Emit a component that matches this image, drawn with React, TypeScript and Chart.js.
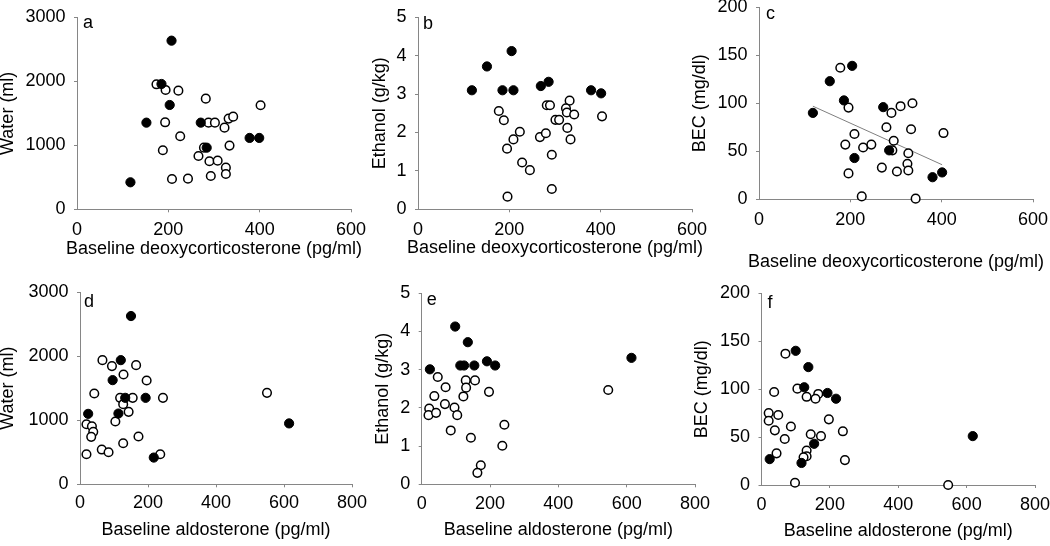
import React, { useEffect, useRef } from "react";
import { Chart, registerables } from "chart.js";

Chart.register(...registerables);

const FONT = "'Liberation Sans', Arial, Helvetica, sans-serif";
const AXIS = "#868686";
const FS = 18;

// ---- Panel a: Baseline deoxycorticosterone vs Water ----
const aFilledX = [207, 185, 203, 152, 271, 284, 378, 399, 117];
const aFilledY = [2635, 1958, 1630, 1354, 1354, 963, 1115, 1115, 422];
const aOpenX = [174, 194, 222, 282, 402, 193, 288, 302, 332, 342, 323, 226, 278, 334, 188, 266, 290, 308, 326, 326, 293, 208, 243];
const aOpenY = [1953, 1865, 1854, 1729, 1625, 1359, 1354, 1354, 1417, 1448, 1276, 1141, 963, 995, 922, 833, 750, 760, 651, 552, 521, 474, 479];

// ---- Panel b: Baseline deoxycorticosterone vs Ethanol ----
const bFilledX = [118, 151, 185, 205, 209, 269, 286, 379, 401];
const bFilledY = [3.1, 3.72, 3.1, 4.12, 3.1, 3.21, 3.32, 3.1, 3.02];
const bOpenX = [177, 188, 223, 209, 195, 228, 245, 196, 267, 280, 282, 289, 301, 309, 293, 293, 332, 324, 326, 327, 342, 334, 403];
const bOpenY = [2.56, 2.32, 2.02, 1.82, 1.58, 1.22, 1.02, 0.33, 1.88, 1.98, 2.71, 2.71, 2.33, 2.33, 1.42, 0.53, 2.83, 2.63, 2.52, 2.12, 2.47, 1.82, 2.42];

// ---- Panel c: Baseline deoxycorticosterone vs BEC ----
const cFilledX = [118, 155, 186, 204, 209, 272, 285, 380, 401];
const cFilledY = [90, 123, 103, 139, 43, 96, 51, 23, 28];
const cOpenX = [178, 196, 189, 196, 209, 228, 246, 225, 269, 279, 290, 310, 295, 292, 302, 336, 333, 327, 325, 327, 343, 404];
const cOpenY = [137, 95.5, 57, 27, 68, 54, 57, 3, 33, 75, 90, 97, 61, 51, 29, 100, 73, 48, 37, 30, 0.7, 69];
const cTrendX = [118, 401];
const cTrendY = [97, 36];

// ---- Panel d: Baseline aldosterone vs Water ----
const dFilledX = [150, 120, 96, 133, 193, 24, 113, 217, 615];
const dFilledY = [2625, 1937, 1625, 1349, 1349, 1099, 1104, 417, 950];
const dOpenX = [66, 94, 165, 128, 196, 42, 118, 155, 244, 127, 143, 104, 19, 35, 39, 33, 127, 172, 64, 84, 19, 236, 550];
const dOpenY = [1937, 1844, 1859, 1713, 1620, 1417, 1349, 1349, 1349, 1250, 1130, 979, 937, 906, 818, 740, 641, 745, 542, 500, 469, 469, 1427];

// ---- Panel e: Baseline aldosterone vs Ethanol ----
const eFilledX = [24, 98, 135, 113, 124, 154, 191, 215, 614];
const eFilledY = [3.01, 4.13, 3.72, 3.11, 3.11, 3.11, 3.22, 3.11, 3.31];
const eOpenX = [47, 70, 129, 156, 130, 197, 37, 122, 68, 22, 96, 20, 42, 104, 85, 144, 242, 236, 173, 163, 546];
const eOpenY = [2.81, 2.54, 2.72, 2.72, 2.53, 2.42, 2.31, 2.3, 2.1, 1.98, 2.01, 1.81, 1.87, 1.81, 1.41, 1.22, 1.56, 1.01, 0.5, 0.3, 2.47];

// ---- Panel f: Baseline aldosterone vs BEC ----
const fFilledX = [100, 137, 125, 193, 218, 154, 24, 117, 618];
const fFilledY = [140, 123, 102, 96, 90, 43, 27, 23, 51];
const fOpenX = [70, 37, 105, 132, 166, 158, 21, 49, 21, 39, 86, 197, 68, 144, 174, 238, 44, 132, 132, 123, 244, 98, 546];
const fOpenY = [137, 97, 100.5, 92, 95, 90, 75, 73, 67, 57, 61, 68.5, 48, 53, 51, 56, 33, 36, 30, 29, 26, 2.4, 0];

// ---- Axis labels ----
const DOC_TITLE = "Baseline deoxycorticosterone (pg/ml)";
const ALDO_TITLE = "Baseline aldosterone (pg/ml)";
const WATER_TITLE = "Water (ml)";
const ETOH_TITLE = "Ethanol (g/kg)";
const BEC_TITLE = "BEC (mg/dl)";

type Pt = { x: number; y: number };
const zip = (xs: number[], ys: number[]): Pt[] => xs.map((x, i) => ({ x, y: ys[i] }));

interface Panel {
  letter: string;
  xTitle: string;
  yTitle: string;
  xMax: number;
  xStep: number;
  yMax: number;
  yStep: number;
  filled: Pt[];
  open: Pt[];
  trend?: Pt[];
  area: { l: number; r: number; t: number; b: number };
  yTitleX: number;
  xTickY: number;
  xTitleY: number;
  letterDx: number;
  letterDy: number;
}

const PANELS: Panel[] = [
  {
    letter: "a", xTitle: DOC_TITLE, yTitle: WATER_TITLE, xMax: 600, xStep: 200, yMax: 3000, yStep: 1000,
    filled: zip(aFilledX, aFilledY), open: zip(aOpenX, aOpenY),
    area: { l: 77, r: 351, t: 17.3, b: 209.3 }, yTitleX: 8, xTickY: 230, xTitleY: 248.7, letterDx: 6, letterDy: 11,
  },
  {
    letter: "b", xTitle: DOC_TITLE, yTitle: ETOH_TITLE, xMax: 600, xStep: 200, yMax: 5, yStep: 1,
    filled: zip(bFilledX, bFilledY), open: zip(bOpenX, bOpenY),
    area: { l: 418, r: 692, t: 17.3, b: 209.3 }, yTitleX: 380.5, xTickY: 230, xTitleY: 248.3, letterDx: 5, letterDy: 12,
  },
  {
    letter: "c", xTitle: DOC_TITLE, yTitle: BEC_TITLE, xMax: 600, xStep: 200, yMax: 200, yStep: 50,
    filled: zip(cFilledX, cFilledY), open: zip(cOpenX, cOpenY), trend: zip(cTrendX, cTrendY),
    area: { l: 759, r: 1033, t: 7.3, b: 199.3 }, yTitleX: 700, xTickY: 220, xTitleY: 261.7, letterDx: 7, letterDy: 12,
  },
  {
    letter: "d", xTitle: ALDO_TITLE, yTitle: WATER_TITLE, xMax: 800, xStep: 200, yMax: 3000, yStep: 1000,
    filled: zip(dFilledX, dFilledY), open: zip(dOpenX, dOpenY),
    area: { l: 80, r: 352, t: 292, b: 484.3 }, yTitleX: 8.4, xTickY: 503.5, xTitleY: 530, letterDx: 4, letterDy: 14.5,
  },
  {
    letter: "e", xTitle: ALDO_TITLE, yTitle: ETOH_TITLE, xMax: 800, xStep: 200, yMax: 5, yStep: 1,
    filled: zip(eFilledX, eFilledY), open: zip(eOpenX, eOpenY),
    area: { l: 421.7, r: 695, t: 293.3, b: 484.3 }, yTitleX: 382.7, xTickY: 504.5, xTitleY: 530, letterDx: 5, letterDy: 12,
  },
  {
    letter: "f", xTitle: ALDO_TITLE, yTitle: BEC_TITLE, xMax: 800, xStep: 200, yMax: 200, yStep: 50,
    filled: zip(fFilledX, fFilledY), open: zip(fOpenX, fOpenY),
    area: { l: 761.5, r: 1035, t: 293.3, b: 485 }, yTitleX: 701.8, xTickY: 505.5, xTitleY: 531, letterDx: 6, letterDy: 15,
  },
];

const W = 1050;
const H = 546;
const TICK_LEN = 3;

function makeConfig(p: Panel): any {
  const yPadLeft = Math.max(0, p.yTitleX - FS / 2);
  const yWidth = p.area.l - yPadLeft;
  const yTitlePad = p.yTitleX - FS / 2 - yPadLeft;
  const xHeight = p.xTitleY + FS / 2 - p.area.b;
  const xTickPad = p.xTickY - p.area.b - TICK_LEN - (FS * 1.2) / 2;

  // Panel letter and x-axis title (drawn without width compression)
  const textPlugin = {
    id: "panelText" + p.letter,
    afterDraw(chart: any) {
      const { ctx, chartArea } = chart;
      ctx.save();
      ctx.font = `${FS}px ${FONT}`;
      ctx.fillStyle = "#000";
      ctx.textBaseline = "alphabetic";
      ctx.textAlign = "left";
      ctx.fillText(p.letter, chartArea.left + p.letterDx, chartArea.top + p.letterDy);
      ctx.textBaseline = "middle";
      ctx.textAlign = "center";
      ctx.fillText(p.xTitle, (chartArea.left + chartArea.right) / 2, p.xTitleY);
      ctx.restore();
    },
  };

  const datasets: any[] = [
    {
      label: "filled",
      data: p.filled,
      pointRadius: 4.6,
      pointBackgroundColor: "#000",
      pointBorderColor: "#000",
      pointBorderWidth: 1,
      showLine: false,
      clip: false,
    },
    {
      label: "open",
      data: p.open,
      pointRadius: 4.3,
      pointBackgroundColor: "#fff",
      pointBorderColor: "#000",
      pointBorderWidth: 1.5,
      showLine: false,
      clip: false,
    },
  ];
  if (p.trend) {
    datasets.push({
      label: "trend",
      data: p.trend,
      showLine: true,
      borderColor: "#7f7f7f",
      borderWidth: 1,
      pointRadius: 0,
      clip: false,
    });
  }

  return {
    type: "scatter",
    data: { datasets },
    options: {
      animation: false,
      responsive: false,
      devicePixelRatio: 1,
      events: [],
      layout: {
        padding: {
          left: yPadLeft,
          top: p.area.t,
          right: W - p.area.r,
          bottom: H - p.area.b - xHeight,
        },
      },
      plugins: {
        legend: { display: false },
        tooltip: { enabled: false },
        title: { display: false },
      },
      scales: {
        x: {
          type: "linear",
          position: "bottom",
          min: 0,
          max: p.xMax,
          ticks: {
            stepSize: p.xStep,
            font: { family: FONT, size: FS, lineHeight: 1.2 },
            color: "#000",
            padding: xTickPad,
            maxRotation: 0,
            autoSkip: false,
            callback: (v: any) => String(v),
          },
          grid: {
            drawOnChartArea: false,
            drawTicks: true,
            tickLength: TICK_LEN,
            color: AXIS,
            tickColor: (c: any) => (c.index === 0 ? "rgba(0,0,0,0)" : AXIS),
          },
          border: { display: true, color: AXIS, width: 1 },
          title: { display: false, text: p.xTitle },
          afterFit: (s: any) => {
            s.height = xHeight;
            s.paddingLeft = 0;
            s.paddingRight = 0;
          },
        },
        y: {
          type: "linear",
          position: "left",
          min: 0,
          max: p.yMax,
          ticks: {
            stepSize: p.yStep,
            font: { family: FONT, size: FS, lineHeight: 1.2 },
            color: "#000",
            padding: 8.5,
            autoSkip: false,
            callback: (v: any) => String(v),
          },
          grid: {
            drawOnChartArea: false,
            drawTicks: true,
            tickLength: TICK_LEN,
            color: AXIS,
            tickColor: AXIS,
          },
          border: { display: true, color: AXIS, width: 1 },
          title: {
            display: true,
            text: p.yTitle,
            color: "#000",
            font: { family: FONT, size: FS, lineHeight: 1 },
            padding: { top: yTitlePad, bottom: 0 },
          },
          afterFit: (s: any) => {
            s.width = yWidth;
            s.paddingTop = 0;
            s.paddingBottom = 0;
          },
        },
      },
    },
    plugins: [textPlugin],
  };
}

function PanelChart({ p }: { p: Panel }) {
  const ref = useRef<HTMLCanvasElement>(null);
  useEffect(() => {
    if (!ref.current) return;
    const chart = new Chart(ref.current, makeConfig(p));
    return () => chart.destroy();
  }, [p]);
  return (
    <canvas
      ref={ref}
      width={W}
      height={H}
      style={{ position: "absolute", left: 0, top: 0, width: W, height: H }}
    />
  );
}

export default function App() {
  return (
    <div
      style={{
        position: "fixed",
        left: 0,
        top: 0,
        width: W,
        height: H,
        background: "#fff",
        overflow: "hidden",
      }}
    >
      {PANELS.map((p) => (
        <PanelChart key={p.letter} p={p} />
      ))}
    </div>
  );
}
